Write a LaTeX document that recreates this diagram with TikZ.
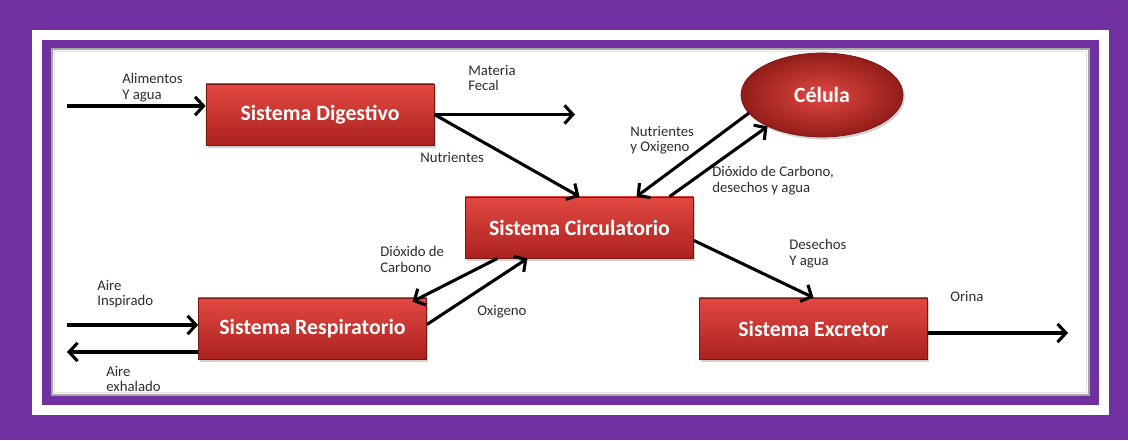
\documentclass[tikz,border=0pt]{standalone}
\usepackage{fontspec}
\setmainfont{Carlito}
\usetikzlibrary{arrows.meta,calc,positioning,shapes.geometric,shadows}
\definecolor{frame}{RGB}{112,48,160}
\definecolor{boxtop}{RGB}{226,72,66}
\definecolor{boxbot}{RGB}{172,34,30}
\definecolor{boxline}{RGB}{120,22,20}
\definecolor{tagtext}{RGB}{45,45,45}

\begin{document}
\begin{tikzpicture}[
  x=0.025cm, y=-0.025cm,
  every node/.style={font=\normalsize},
  system/.style={
    draw=boxline,
    line width=0.5pt,
    top color=boxtop,
    bottom color=boxbot,
    minimum width=5.7cm,
    minimum height=1.525cm,
    inner sep=0pt,
    text=white,
    font=\fontsize{15.5}{18}\selectfont\bfseries,
    drop shadow={shadow xshift=1.2pt, shadow yshift=-1.8pt, opacity=0.35}
  },
  cell/.style={system, ellipse, inner color=boxtop, outer color=boxbot!85!black,
    minimum width=4.05cm, minimum height=2.1cm},
  tag/.style={
    anchor=north west,
    inner sep=0pt,
    align=left,
    text=tagtext,
    font=\fontsize{10.5}{11}\selectfont
  },
  flow/.style={-{Straight Barb[length=6pt,width=13pt]}, line width=2.2pt, draw=black}
]
% frame
\fill[frame] (0,0) rectangle (1128,440);
\fill[white] (32,30) rectangle (1109,415);
\fill[frame] (42,40) rectangle (1099,405);
\fill[white, draw=black!35, line width=1.4pt] (52,49) rectangle (1089,395);
\draw[black!12, line width=1.2pt] (54.5,51.5) rectangle (1086.5,392.5);
\useasboundingbox (0,0) rectangle (1128,440);

\begin{scope}
\clip (53,50) rectangle (1088,394);

\node[system] (dig) at (320,114.5) {Sistema Digestivo};
\node[system] (circ) at (579.5,227.5) {Sistema Circulatorio};
\node[system] (resp) at (312.5,328.5) {Sistema Respiratorio};
\node[system] (exc) at (813.5,328.5) {Sistema Excretor};
\node[cell] (cel) at (822,95) {Célula};

\coordinate (food) at (67,106);
\coordinate (feces) at (575,114.5);
\coordinate (airin) at (67,325);
\coordinate (airout) at (67,352);
\coordinate (urine) at (1068,333);

\draw[flow] (food) -- (food -| dig.west);
\draw[flow] (dig.east) -- (feces);
\draw[flow] (dig.east) -- (circ.north);
\draw[flow] (cel.194) -- ($(circ.north)+(57,0)$);
\draw[flow] ($(circ.north)+(90,0)$) -- (cel.210);
\draw[flow] ($(circ.east)+(0,13)$) -- (exc.north);
\draw[flow] ($(circ.south)+(-82,0)$) -- ($(resp.north)+(100,4)$);
\draw[flow] ($(resp.east)+(0,-4)$) -- ($(circ.south)+(-52,0)$);
\draw[flow] (airin) -- (airin -| resp.west);
\draw[flow] (airout -| resp.west) -- (airout);
\draw[flow] (urine -| exc.east) -- (urine);

\node[tag] (tfood) at (122,73) {Alimentos\\Y agua};
\node[tag] (tfeces) at (468,65) {Materia\\Fecal};
\node[tag] (tnutr) at (420,152) {Nutrientes};
\node[tag] (tnutrox) at (630,126) {Nutrientes\\y Oxigeno};
\node[tag] (twaste) at (712,166) {Dióxido de Carbono,\\desechos y agua};
\node[tag] (texc) at (789,239) {Desechos\\Y agua};
\node[tag] (turine) at (950,291) {Orina};
\node[tag] (tcoo) at (380,246) {Dióxido de\\Carbono};
\node[tag] (toxy) at (477,305) {Oxigeno};
\node[tag] (tairin) at (97,280) {Aire\\Inspirado};
\node[tag] (tairout) at (106,366) {Aire\\exhalado};
\end{scope}
\end{tikzpicture}
\end{document}
